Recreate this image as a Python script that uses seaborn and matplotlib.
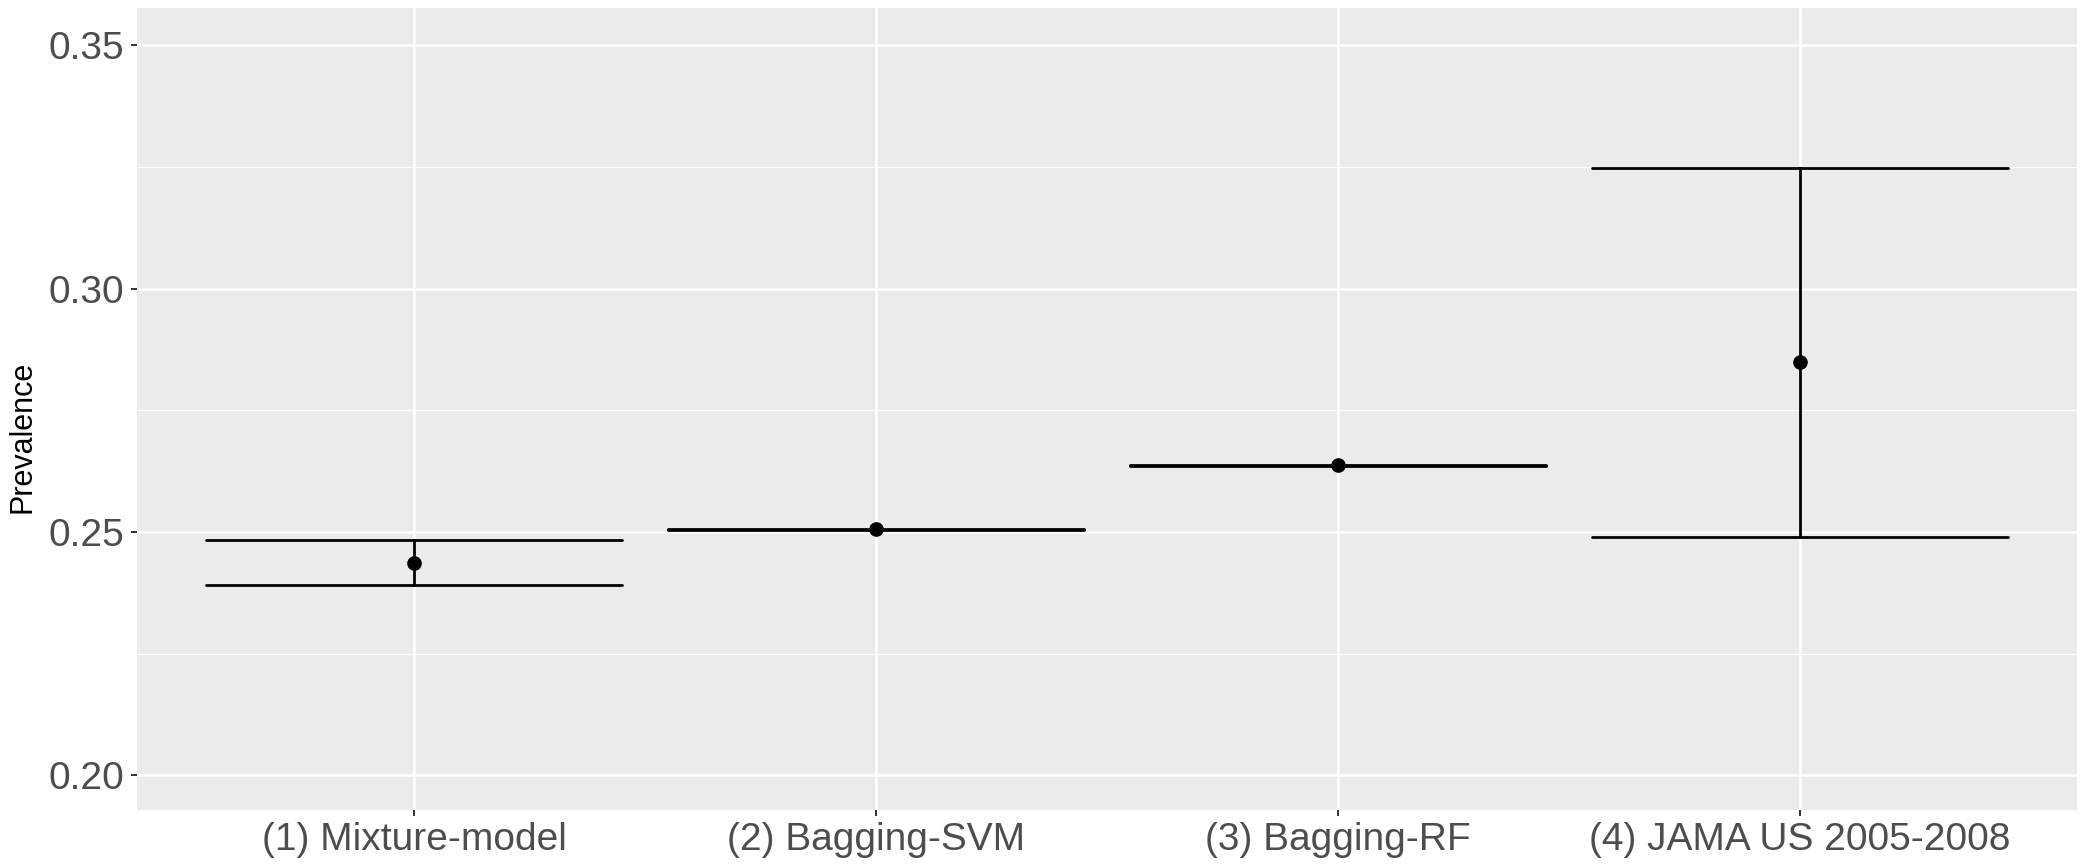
import numpy
import pandas
import seaborn as sns
import matplotlib.pyplot as plt
from matplotlib.ticker import MultipleLocator

# Values
methods  = ["(1) Mixture-model", "(2) Bagging-SVM", "(3) Bagging-RF", "(4) JAMA US 2005-2008"]
estimate = [0.2437, 0.2506, 0.2637, 0.2850]
lower    = [0.2391, 0.2505, 0.2636, 0.2489]
upper    = [0.2484, 0.2507, 0.2638, 0.3249]

# Long format: median of (lower, estimate, upper) is the point, full range is the interval
df = pandas.DataFrame({
    "method": numpy.repeat(methods, 3),
    "Prevalence": numpy.ravel(numpy.column_stack([lower, estimate, upper])),
})

sns.set_theme(style="darkgrid", rc={
    "axes.facecolor": "#EBEBEB",
    "grid.color": "white",
    "axes.edgecolor": "#EBEBEB",
    "xtick.bottom": True,
    "ytick.left": True,
    "xtick.color": "#333333",
    "ytick.color": "#333333",
})
plt.rcParams["font.family"] = ["Liberation Sans", "DejaVu Sans"]

fig, ax = plt.subplots(figsize=(20.85, 8.66), dpi=100)
fig.subplots_adjust(left=0.0657, right=0.9962, top=0.9908, bottom=0.0647)

sns.pointplot(
    data=df, x="method", y="Prevalence",
    estimator="median", errorbar=("pi", 100),
    linestyle="none", color="black", capsize=0.9,
    markersize=8.5, err_kws={"linewidth": 2.0}, ax=ax,
)

ax.set_xlim(-0.6, 3.6)
ax.set_ylim(0.1929, 0.3577)
ax.yaxis.set_major_locator(MultipleLocator(0.05))
ax.yaxis.set_minor_locator(MultipleLocator(0.025))
ax.yaxis.set_major_formatter(plt.FormatStrFormatter("%.2f"))
ax.grid(which="major", color="white", linewidth=1.8)
ax.grid(which="minor", axis="y", color="white", linewidth=0.9)
ax.tick_params(axis="both", which="major", length=4, width=1.4, labelsize=28,
               labelcolor="#4D4D4D", pad=5)
ax.tick_params(axis="y", which="minor", length=0)
for s in ax.spines.values():
    s.set_visible(False)
ax.set_axisbelow(True)

ax.set_xlabel("")
ax.set_ylabel("Prevalence", fontsize=22, color="black", fontstretch="condensed")
ax.yaxis.set_label_coords(-0.0515, 0.465)

plt.savefig("out.png", dpi=100)
